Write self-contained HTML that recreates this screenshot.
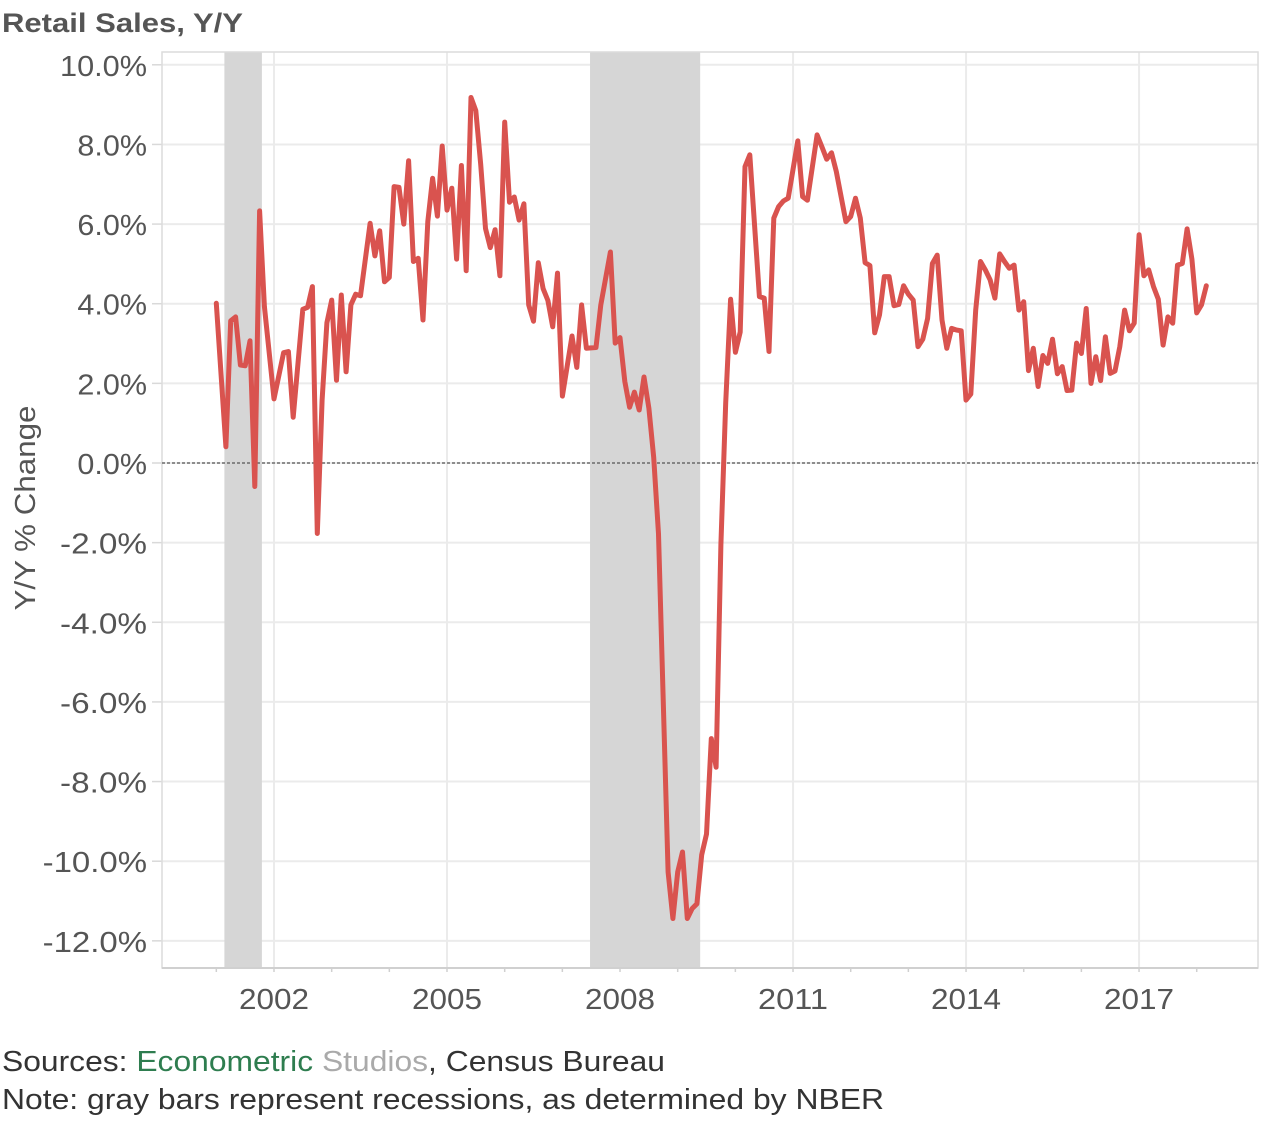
<!DOCTYPE html>
<html><head><meta charset="utf-8"><style>
body{margin:0;background:#fff;width:1262px;height:1120px;overflow:hidden;font-family:"Liberation Sans",sans-serif}
svg text{font-family:"Liberation Sans",sans-serif}
</style></head><body>
<svg id="chart" width="1262" height="1120" xmlns="http://www.w3.org/2000/svg">
<text x="2" y="32" font-size="27" font-weight="bold" fill="#555" textLength="241" lengthAdjust="spacingAndGlyphs">Retail Sales, Y/Y</text>
<g id="grid"></g><g id="rec"></g><g id="axes"></g><g id="series"></g>
<text transform="translate(35,508) rotate(-90)" text-anchor="middle" font-size="29" fill="#555" textLength="205" lengthAdjust="spacingAndGlyphs">Y/Y % Change</text>
<text x="2" y="1071" font-size="29" fill="#333" textLength="663" lengthAdjust="spacingAndGlyphs">Sources: <tspan fill="#2e7d4f">Econometric</tspan> <tspan fill="#aaa">Studios</tspan>, Census Bureau</text>
<text x="2" y="1109" font-size="29" fill="#333" textLength="882" lengthAdjust="spacingAndGlyphs">Note: gray bars represent recessions, as determined by NBER</text>
</svg>
<script>
const months=[0,2,3,4,5,6,7,8,9,10,12,14,15,16,18,19,20,21,22,23,24,25,26,27,28,29,30,32,33,34,35,36,37,38,39,40,41,42,43,44,45,46,47,48,49,50,51,52,53,54,55,56,57,58,59,60,61,62,63,64,65,66,67,68,69,70,71,72,74,75,76,77,79,80,82,83,84,85,86,87,88,89,90,91,92,94,95,96,97,98,99,100,101,102,103,104,105,106,107,108,109,110,111,113,114,115,116,117,118,119,121,122,123,125,126,127,128,129,131,132,133,134,135,136,137,138,139,140,141,142,143,144,145,146,147,148,149,150,151,152,153,154,155,156,157,158,159,160,161,162,163,164,165,166,167,168,169,170,171,172,173,174,175,176,177,178,179,180,181,182,183,184,185,186,187,188,189,190,191,192,193,194,195,196,197,198,199,200,201,202,203,204,205,206];
const values=[4.01,0.41,3.57,3.67,2.46,2.44,3.07,-0.59,6.33,3.93,1.61,2.77,2.80,1.15,3.86,3.91,4.43,-1.77,1.58,3.52,4.09,2.08,4.22,2.29,3.97,4.24,4.20,6.02,5.20,5.83,4.55,4.66,6.94,6.92,6.00,7.59,5.06,5.14,3.59,6.06,7.15,6.20,7.96,6.35,6.90,5.12,7.47,4.83,9.18,8.85,7.5,5.89,5.41,5.86,4.70,8.56,6.55,6.68,6.10,6.51,3.97,3.56,5.03,4.38,4.08,3.42,4.77,1.68,3.19,2.40,3.97,2.88,2.90,3.97,5.30,3.01,3.15,2.05,1.40,1.78,1.33,2.16,1.37,0.14,-1.78,-10.27,-11.44,-10.27,-9.77,-11.44,-11.19,-11.07,-9.84,-9.32,-6.92,-7.64,-2.05,1.51,4.11,2.78,3.29,7.44,7.74,4.18,4.14,2.80,6.15,6.44,6.58,6.65,8.09,6.69,6.60,8.24,7.94,7.63,7.79,7.32,6.06,6.19,6.65,6.15,5.03,4.96,3.27,3.72,4.68,4.68,3.95,3.98,4.45,4.24,4.09,2.92,3.11,3.63,5.01,5.22,3.59,2.88,3.38,3.34,3.32,1.58,1.73,3.84,5.06,4.85,4.60,4.14,5.25,5.06,4.89,4.97,3.84,4.05,2.32,2.88,1.92,2.70,2.50,3.11,2.24,2.42,1.82,1.83,3.01,2.75,3.88,2.00,2.67,2.07,3.17,2.25,2.31,2.92,3.84,3.32,3.51,5.73,4.70,4.85,4.43,4.11,2.96,3.67,3.51,4.97,5.01,5.88,5.12,3.77,3.97,4.45];
const yTicks=[10,8,6,4,2,0,-2,-4,-6,-8,-10,-12];
const xTickYears=[2002,2005,2008,2011,2014,2017];
const minorYears=[2001,2002,2003,2004,2005,2006,2007,2008,2009,2010,2011,2012,2013,2014,2015,2016,2017,2018];
const recStart=[2001.14,2007.48];
const recEnd=[2001.79,2009.39];
const NS="http://www.w3.org/2000/svg";
const L=162,R=1258,T=52,B=968;
function yS(v){return 463-v*39.82;}
function xS(yr){return 274+(yr-2002)*57.67;}
function mk(tag,attrs,parent){const e=document.createElementNS(NS,tag);for(const k in attrs)e.setAttribute(k,attrs[k]);document.getElementById(parent).appendChild(e);return e;}
yTicks.forEach(v=>{
 const g=mk('line',{x1:L,x2:R,y1:yS(v),y2:yS(v),stroke:'#ebebeb','stroke-width':2},'grid');
 
 
 const t=mk('line',{x1:152,x2:L,y1:yS(v),y2:yS(v),stroke:'#d9d9d9','stroke-width':1.5},'axes');
 
 
 const lbl=v.toFixed(1)+'%';
 const tx=mk('text',{x:147,y:yS(v)+11,'text-anchor':'end','font-size':29,fill:'#555',textLength:lbl.length*17.4,lengthAdjust:'spacingAndGlyphs'},'axes');
 tx.textContent=lbl;
 
 
});
xTickYears.forEach(y=>{
 const g=mk('line',{x1:xS(y),x2:xS(y),y1:T,y2:B,stroke:'#ebebeb','stroke-width':2},'grid');
 
 
 const tx=mk('text',{x:xS(y),y:1009,'text-anchor':'middle','font-size':29,fill:'#555',textLength:70,lengthAdjust:'spacingAndGlyphs'},'axes');
 tx.textContent=y;
 
 
});
minorYears.forEach(y=>{
 const t=mk('line',{x1:xS(y),x2:xS(y),y1:B,y2:B+4,stroke:'#d0d0d0','stroke-width':1.5},'axes');
 
 
});
recStart.forEach((s,i)=>{
 const r=mk('rect',{x:xS(s),y:T,width:xS(recEnd[i])-xS(s),height:B-T,fill:'#d6d6d6'},'rec');
 
 
});
const fr=mk('rect',{x:L,y:T,width:R-L,height:B-T,fill:'none',stroke:'#dcdcdc','stroke-width':1.5},'axes');


const bl=mk('line',{x1:L,x2:R,y1:B,y2:B,stroke:'#d0d0d0','stroke-width':2},'axes');


const z=mk('line',{x1:L,x2:R,y1:yS(0),y2:yS(0),stroke:'#555','stroke-width':1.3,'stroke-dasharray':'3,2'},'series');


const pts=months.map((m,i)=>xS(2001+m/12).toFixed(1)+','+yS(values[i]).toFixed(1)).join(' ');
const pl=mk('polyline',{points:pts,fill:'none',stroke:'#d9534f','stroke-width':5,'stroke-linejoin':'round','stroke-linecap':'round'},'series');


</script>
</body></html>
